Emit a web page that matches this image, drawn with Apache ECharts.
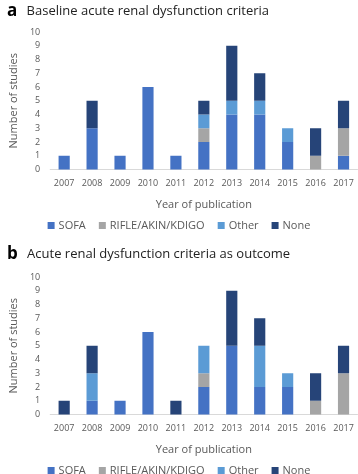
<!DOCTYPE html>
<html>
<head>
<meta charset="utf-8">
<script src="https://cdn.jsdelivr.net/npm/echarts@6/dist/echarts.min.js"></script>
<style>
  html, body { margin: 0; padding: 0; background: #fff; }
  #chart { width: 358px; height: 474px; }
</style>
</head>
<body>
<div id="chart"></div>
<script>
// years on the x axis
const years = ["2007", "2008", "2009", "2010", "2011", "2012", "2013", "2014", "2015", "2016", "2017"];
const categories = ["SOFA", "RIFLE/AKIN/KDIGO", "Other", "None"];

// panel a: baseline criteria
const baseSofa  = [1, 3, 1, 6, 1, 2, 4, 4, 2, 0, 1];
const baseRifle = [0, 0, 0, 0, 0, 1, 0, 0, 0, 1, 2];
const baseOther = [0, 0, 0, 0, 0, 1, 1, 1, 1, 0, 0];
const baseNone  = [0, 2, 0, 0, 0, 1, 4, 2, 0, 2, 2];

// panel b: criteria as outcome
const outSofa  = [0, 1, 1, 6, 0, 2, 5, 2, 2, 0, 0];
const outRifle = [0, 0, 0, 0, 0, 1, 0, 0, 0, 1, 3];
const outOther = [0, 2, 0, 0, 0, 2, 0, 3, 1, 0, 0];
const outNone  = [1, 2, 0, 0, 1, 0, 4, 2, 0, 2, 2];

const yTicks = [0, 10];

const colors = ["#4472C4", "#A5A5A5", "#5B9BD5", "#264478"];
const font = "Open Sans";
const labelColor = "#595959";

const chart = echarts.init(document.getElementById("chart"));

const panels = [
  { letter: "a", title: "Baseline acute renal dysfunction criteria", top: 32, titleTop: -3, legendTop: 215, data: [baseSofa, baseRifle, baseOther, baseNone] },
  { letter: "b", title: "Acute renal dysfunction criteria as outcome", top: 277, titleTop: 240, legendTop: 460, data: [outSofa, outRifle, outOther, outNone] },
];

const series = [];
panels.forEach((p, pi) => {
  categories.forEach((name, ci) => {
    series.push({
      name,
      type: "bar",
      stack: "s" + pi,
      xAxisIndex: pi,
      yAxisIndex: pi,
      barWidth: "40%",
      itemStyle: { color: colors[ci] },
      // zero values are drawn as nothing
      data: p.data[ci].map((v) => (v === 0 ? null : v)),
    });
  });
});

const option = {
  animation: false,
  color: colors,
  textStyle: { fontFamily: font },
  title: panels.map((p) => ({
    text: "{l|" + p.letter + "}  {t|" + p.title + "}",
    left: 2,
    top: p.titleTop,
    textStyle: {
      fontWeight: "normal",
      rich: {
        l: { fontFamily: font, fontWeight: "bold", fontSize: 17, color: "#000" },
        t: { fontFamily: font, fontWeight: "normal", fontSize: 13, color: "#222" },
      },
    },
  })),
  legend: panels.map((p) => ({
    data: categories,
    left: "center",
    top: p.legendTop,
    itemWidth: 7,
    itemHeight: 7,
    itemGap: 13,
    icon: "rect",
    textStyle: { fontFamily: font, fontSize: 11, color: labelColor, padding: [0, 0, 0, -1] },
    selectedMode: false,
  })),
  grid: panels.map((p) => ({
    left: 37.5,
    right: 0.5,
    top: p.top,
    height: 137.5,
  })),
  xAxis: panels.map((p, i) => ({
    type: "category",
    gridIndex: i,
    data: years,
    name: "Year of publication",
    nameLocation: "middle",
    nameGap: 30,
    nameTextStyle: { fontFamily: font, fontSize: 11, color: labelColor },
    axisTick: { show: false },
    axisLine: { lineStyle: { color: "#D9D9D9" } },
    axisLabel: { fontFamily: font, fontSize: 9, color: labelColor, margin: 9 },
  })),
  yAxis: panels.map((p, i) => ({
    type: "value",
    gridIndex: i,
    min: yTicks[0],
    max: yTicks[1],
    interval: 1,
    name: "Number of studies",
    nameLocation: "middle",
    nameGap: 27,
    nameTextStyle: { fontFamily: font, fontSize: 11, color: labelColor },
    axisLine: { show: false },
    axisTick: { show: false },
    splitLine: { show: false },
    axisLabel: { fontFamily: font, fontSize: 9, color: labelColor, margin: 10 },
  })),
  series,
};

chart.setOption(option);
</script>
</body>
</html>
